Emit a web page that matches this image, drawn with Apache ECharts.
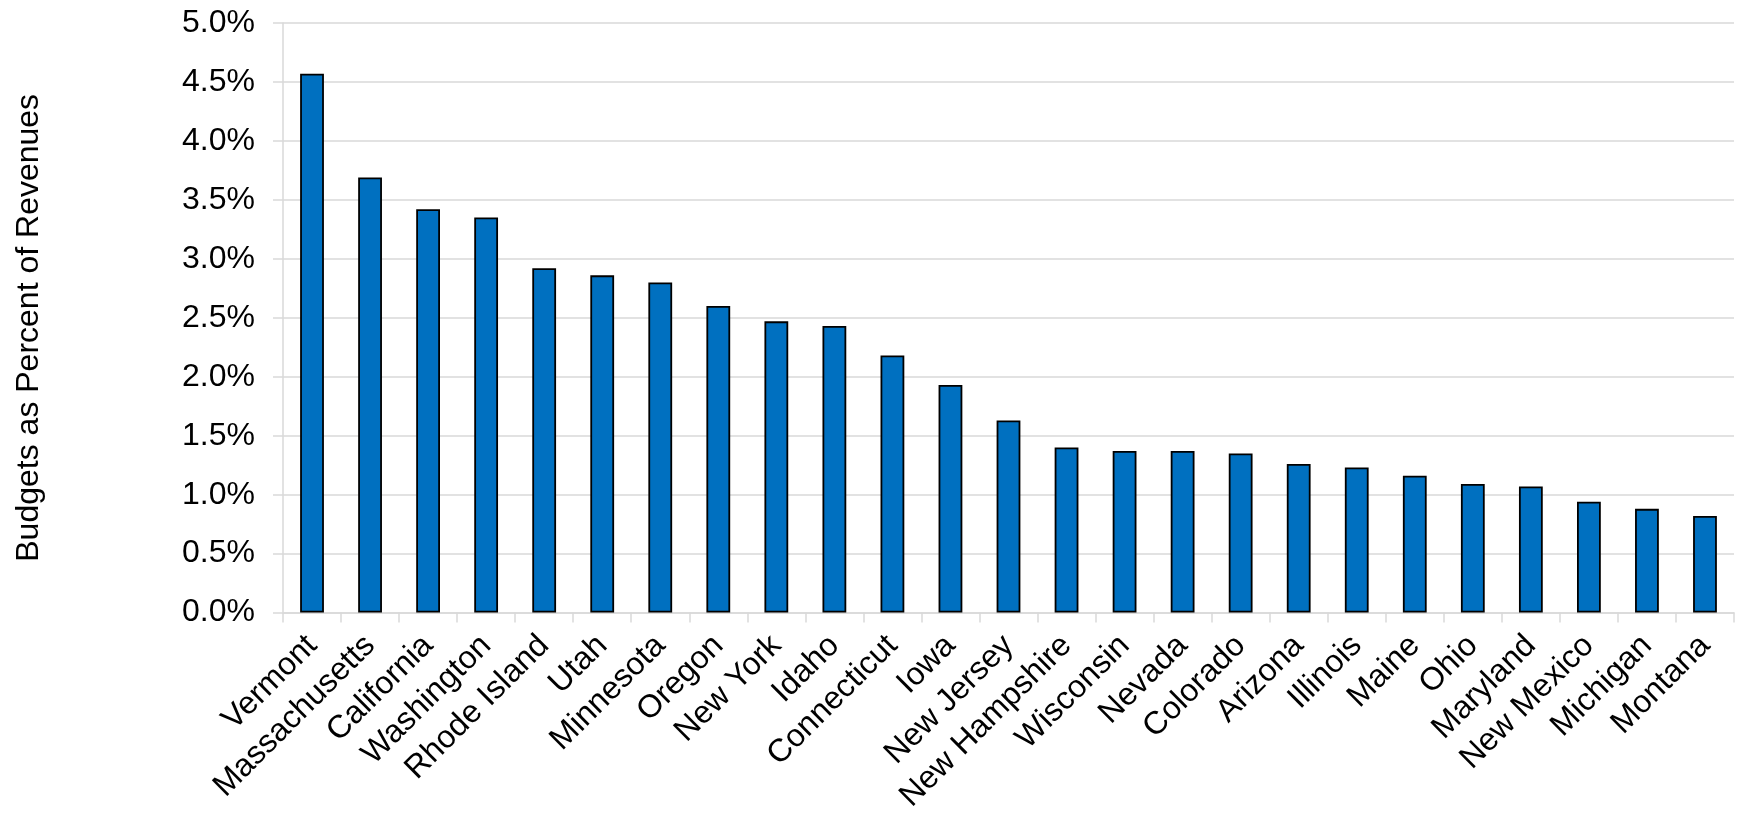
<!DOCTYPE html>
<html>
<head>
<meta charset="utf-8">
<title>Budgets as Percent of Revenues</title>
<script src="https://cdn.jsdelivr.net/npm/echarts@6/dist/echarts.min.js"></script>
<style>
  html, body { margin: 0; padding: 0; background: #ffffff; }
  #chart { width: 1741px; height: 815px; }
</style>
</head>
<body>
<div id="chart"></div>
<script>
// States, ranked by budget as a share of revenues
const states = [
  'Vermont', 'Massachusetts', 'California', 'Washington', 'Rhode Island',
  'Utah', 'Minnesota', 'Oregon', 'New York', 'Idaho',
  'Connecticut', 'Iowa', 'New Jersey', 'New Hampshire', 'Wisconsin',
  'Nevada', 'Colorado', 'Arizona', 'Illinois', 'Maine',
  'Ohio', 'Maryland', 'New Mexico', 'Michigan', 'Montana'
];

// Budget as percent of revenues
const budgetPct = [
  4.57, 3.69, 3.42, 3.35, 2.92,
  2.86, 2.80, 2.60, 2.47, 2.43,
  2.18, 1.93, 1.63, 1.40, 1.37,
  1.37, 1.35, 1.26, 1.23, 1.16,
  1.09, 1.07, 0.94, 0.88, 0.82
];

// Value axis range and step (percent)
const yMin = 0;
const yMax = 5;
const yStep = 0.5;

const axisTitle = 'Budgets as Percent of Revenues';

const FONT = '"Liberation Sans", Arial, sans-serif';
const GRID_GRAY = '#D9D9D9';

const chart = echarts.init(document.getElementById('chart'), null, { renderer: 'canvas' });

chart.setOption({
  animation: false,
  backgroundColor: '#ffffff',
  textStyle: { fontFamily: FONT, color: '#000' },
  grid: { left: 283, right: 7, top: 23, bottom: 201, containLabel: false },
  xAxis: {
    type: 'category',
    data: states,
    boundaryGap: true,
    axisLine: { show: true, lineStyle: { color: GRID_GRAY, width: 1.5 } },
    axisTick: { show: true, length: 10, lineStyle: { color: GRID_GRAY, width: 1.5 } },
    axisLabel: {
      interval: 0,
      rotate: 45,
      margin: 28,
      fontFamily: FONT,
      fontSize: 32,
      color: '#000'
    },
    splitLine: { show: false }
  },
  yAxis: {
    type: 'value',
    min: yMin,
    max: yMax,
    interval: yStep,
    name: axisTitle,
    nameLocation: 'middle',
    nameGap: 238,
    nameRotate: 90,
    nameTextStyle: { fontFamily: FONT, fontSize: 32, color: '#000', padding: [0, 20, 0, 0] },
    axisLine: { show: true, lineStyle: { color: GRID_GRAY, width: 1.5 } },
    axisTick: { show: true, length: 10, lineStyle: { color: GRID_GRAY, width: 1.5 } },
    axisLabel: {
      margin: 28,
      fontFamily: FONT,
      fontSize: 32,
      color: '#000',
      formatter: v => v.toFixed(1) + '%'
    },
    splitLine: { show: true, lineStyle: { color: GRID_GRAY, width: 1.5 } }
  },
  series: [{
    type: 'bar',
    data: budgetPct,
    barCategoryGap: '59%',
    itemStyle: { color: '#0070C0', borderColor: '#000', borderWidth: 1.8 }
  }]
});
</script>
</body>
</html>
